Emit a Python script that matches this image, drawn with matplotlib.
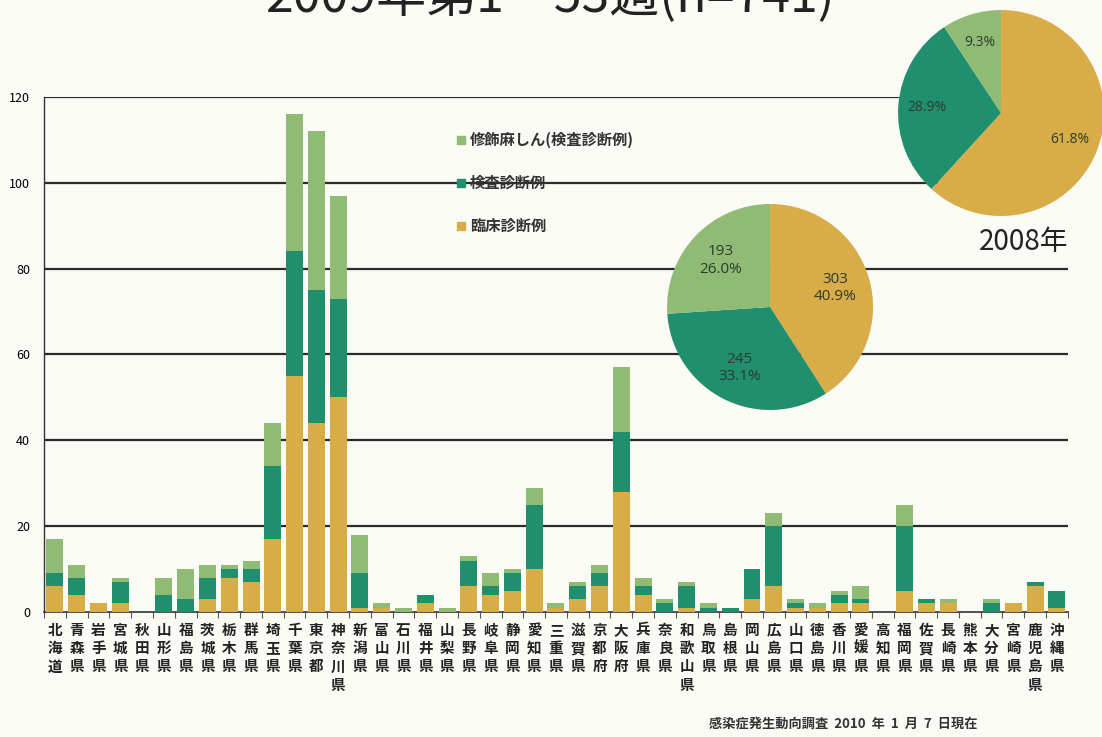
import numpy as np
import matplotlib.pyplot as plt

plt.rcParams['font.family'] = ['Noto Sans CJK JP', 'DejaVu Sans']

# 都道府県
prefs = ['北海道', '青森県', '岩手県', '宮城県', '秋田県', '山形県', '福島県', '茨城県',
         '栃木県', '群馬県', '埼玉県', '千葉県', '東京都', '神奈川県', '新潟県', '富山県',
         '石川県', '福井県', '山梨県', '長野県', '岐阜県', '静岡県', '愛知県', '三重県',
         '滋賀県', '京都府', '大阪府', '兵庫県', '奈良県', '和歌山県', '鳥取県', '島根県',
         '岡山県', '広島県', '山口県', '徳島県', '香川県', '愛媛県', '高知県', '福岡県',
         '佐賀県', '長崎県', '熊本県', '大分県', '宮崎県', '鹿児島県', '沖縄県']

clinical = [6, 4, 2, 2, 0, 0, 0, 3, 8, 7, 17, 55, 44, 50, 1, 1,
            0, 2, 0, 6, 4, 5, 10, 1, 3, 6, 28, 4, 0, 1, 0, 0,
            3, 6, 1, 1, 2, 2, 0, 5, 2, 2, 0, 0, 2, 6, 1]
lab = [3, 4, 0, 5, 0, 4, 3, 5, 2, 3, 17, 29, 31, 23, 8, 0,
       0, 2, 0, 6, 2, 4, 15, 0, 3, 3, 14, 2, 2, 5, 1, 1,
       7, 14, 1, 0, 2, 1, 0, 15, 1, 0, 0, 2, 0, 1, 4]
modified = [8, 3, 0, 1, 0, 4, 7, 3, 1, 2, 10, 32, 37, 24, 9, 1,
            1, 0, 1, 1, 3, 1, 4, 1, 1, 2, 15, 2, 1, 1, 1, 0,
            0, 3, 1, 1, 1, 3, 0, 5, 0, 1, 0, 1, 0, 0, 0]

series_names = ['修飾麻しん(検査診断例)', '検査診断例', '臨床診断例']

pie2009 = [303, 245, 193]
pie2008 = [61.8, 28.9, 9.3]

c_yel = '#d8ad47'
c_dark = '#1f8f6d'
c_light = '#8fbb74'
bg = '#fbfbf6'

fig = plt.figure(figsize=(11.02, 7.37), dpi=100, facecolor=bg)
ax = fig.add_axes([0.040, 0.1696, 0.929, 0.6988])
ax.set_facecolor(bg)

x = np.arange(len(prefs))
cl = np.array(clinical)
lb = np.array(lab)
md = np.array(modified)
w = 0.78
ax.bar(x, cl, w, color=c_yel, zorder=3)
ax.bar(x, lb, w, bottom=cl, color=c_dark, zorder=3)
ax.bar(x, md, w, bottom=cl + lb, color=c_light, zorder=3)

ax.set_xlim(-0.5, 46.5)
ax.set_ylim(0, 120)
ax.set_yticks(range(0, 121, 20))
for v in range(20, 121, 20):
    ax.axhline(v, color='#2b2b2b', lw=1.6, zorder=1)
for s in ['top', 'right']:
    ax.spines[s].set_visible(False)
ax.spines['left'].set_color('#333333')
ax.spines['bottom'].set_color('#333333')
ax.spines['left'].set_linewidth(1.0)
ax.spines['bottom'].set_linewidth(1.2)
ax.tick_params(axis='y', length=0, pad=10, labelsize=9)

ax.set_xticks(x)
ax.set_xticklabels(['\n'.join(p) for p in prefs], fontsize=10.5,
                   fontweight='bold', linespacing=1.18, va='top', color='#222222')
ax.tick_params(axis='x', which='major', length=0, pad=7)
ax.set_xticks(np.arange(-0.5, 47, 1), minor=True)
ax.tick_params(axis='x', which='minor', length=4, width=0.8, color='#555555')

# legend (manual)
ley = [0.810, 0.752, 0.694]
cols = [c_light, c_dark, c_yel]
for yy, cc, nm in zip(ley, cols, series_names):
    fig.patches.append(plt.Rectangle((0.4145, yy - 0.006), 0.0075, 0.011,
                                     transform=fig.transFigure, color=cc))
    fig.text(0.4265, yy, nm, fontsize=11, fontweight='bold', va='center',
             color='#333333')

# pie 2009
pa = fig.add_axes([0.6053, 0.4437, 0.187, 0.2795])
pie_cols = [c_yel, c_dark, c_light]
tot = sum(pie2009)
pa.pie(pie2009, colors=pie_cols, startangle=90, counterclock=False,
       labels=['%d\n%.1f%%' % (v, v * 100 / tot) for v in pie2009],
       labeldistance=0.66, wedgeprops=dict(linewidth=0),
       textprops=dict(fontsize=11, color='#2e3a30', ha='center', va='center',
                      family=['Open Sans', 'DejaVu Sans']))
pa.set_xlim(-1, 1)
pa.set_ylim(-1, 1)
pa.set_aspect('equal')

# pie 2008
pb = fig.add_axes([0.8149, 0.7069, 0.187, 0.2795])
pb.pie(pie2008, colors=pie_cols, startangle=90, counterclock=False,
       labels=['%.1f%%' % v for v in pie2008],
       labeldistance=0.72, wedgeprops=dict(linewidth=0),
       textprops=dict(fontsize=10, color='#2e3a30', ha='center', va='center',
                      family=['Open Sans', 'DejaVu Sans']))
pb.set_xlim(-1, 1)
pb.set_ylim(-1, 1)
pb.set_aspect('equal')
fig.text(0.929, 0.672, '2008年', fontsize=20, ha='center', va='center', color='#222222')

fig.text(0.50, 1 - 12 / 737, '2009年第1～53週(n=741)', fontsize=36, ha='center',
         va='baseline', color='#222222')
fig.text(0.643, 0.008, '感染症発生動向調査  2010  年  1  月  7  日現在', fontsize=9.5,
         fontweight='bold', color='#333333', va='bottom')

fig.savefig('out.png', dpi=100, facecolor=bg)
